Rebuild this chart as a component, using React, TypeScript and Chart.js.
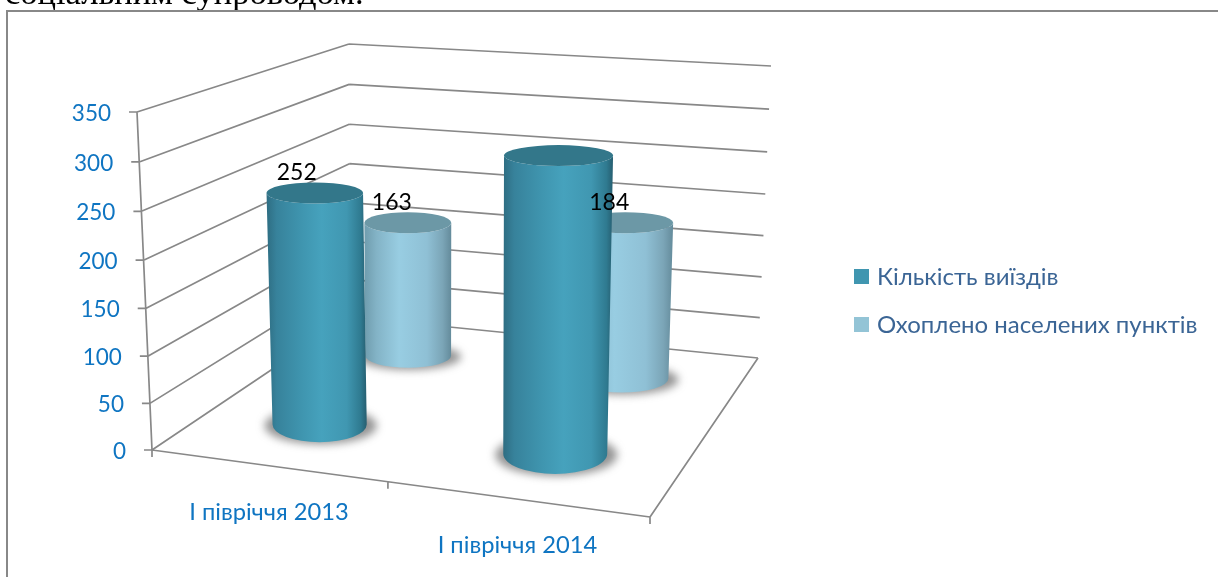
import React, { useEffect, useRef } from "react";
import { Chart, registerables } from "chart.js";

Chart.register(...registerables);

const categories = ["І півріччя 2013", "І півріччя 2014"];
const tripsLabel = "Кількість виїздів";
const settlementsLabel = "Охоплено населених пунктів";
const trips = [252, 310];
const settlements = [163, 184];
const tripsShownLabels = [true, false];
const settlementsShownLabels = [true, true];
const yMin = 0;
const yMax = 350;
const yStep = 50;
const headingText = "соціальним супроводом.";

type P = { x: number; y: number };
const GRAY = "#888888";
const BLUE = "#0f75c2";
const FONT = "Lato, 'Open Sans', sans-serif";

function makeHomography(p0: P, p1: P, p2: P, p3: P) {
  const dx1 = p1.x - p2.x, dx2 = p3.x - p2.x, sx = p0.x - p1.x + p2.x - p3.x;
  const dy1 = p1.y - p2.y, dy2 = p3.y - p2.y, sy = p0.y - p1.y + p2.y - p3.y;
  const den = dx1 * dy2 - dx2 * dy1;
  const g = (sx * dy2 - dx2 * sy) / den;
  const h = (dx1 * sy - sx * dy1) / den;
  const a = p1.x - p0.x + g * p1.x, b = p3.x - p0.x + h * p3.x, c = p0.x;
  const d = p1.y - p0.y + g * p1.y, e = p3.y - p0.y + h * p3.y, f = p0.y;
  return (u: number, v: number): P => {
    const w = g * u + h * v + 1;
    return { x: (a * u + b * v + c) / w, y: (d * u + e * v + f) / w };
  };
}

const floorAt = makeHomography({ x: 152, y: 450 }, { x: 650, y: 517 }, { x: 758, y: 358 }, { x: 350, y: 317 });
const ceilAt = makeHomography({ x: 137, y: 112 }, { x: 660, y: 150 }, { x: 771, y: 66 }, { x: 349, y: 44 });

function project(u: number, v: number, w: number): P {
  const k = w - 0.04 * w * (1 - w);
  const a = floorAt(u, v), b = ceilAt(u, v);
  return { x: a.x + (b.x - a.x) * k, y: a.y + (b.y - a.y) * k };
}

const rowDepth = [0.25, 0.75];
const themes = [
  {
    stops: [[0, "#2e6d82"], [0.1, "#37829b"], [0.35, "#3f95af"], [0.55, "#46a2bd"], [0.8, "#4097b1"], [0.94, "#2f7a90"], [1, "#265e70"]],
    top: "#33778a",
    labelDx: -18,
  },
  {
    stops: [[0, "#6f9cad"], [0.14, "#83b3c6"], [0.4, "#98cde2"], [0.72, "#8fc0d5"], [0.9, "#7ba5b7"], [1, "#648b9b"]],
    top: "#6c98a6",
    labelDx: -16,
  },
];

const scene = {
  id: "scene3d",
  beforeDatasetsDraw(chart: any) {
    const ctx: CanvasRenderingContext2D = chart.ctx;
    const xs = chart.scales.x;
    const ys = chart.scales.y;
    const area = chart.chartArea;
    const uOf = (px: number) => (px - area.left) / (area.right - area.left);
    const wOf = (val: number) => (area.bottom - ys.getPixelForValue(val)) / (area.bottom - area.top);

    ctx.save();
    ctx.fillStyle = "#000";
    ctx.font = "34.5px 'Liberation Serif', serif";
    ctx.textAlign = "left";
    ctx.textBaseline = "alphabetic";
    ctx.fillText(headingText, 5, 4);

    // frame
    ctx.strokeStyle = GRAY;
    ctx.lineWidth = 2;
    ctx.beginPath();
    ctx.moveTo(7, 577);
    ctx.lineTo(7, 11);
    ctx.lineTo(1218, 11);
    ctx.stroke();

    // walls, floor, ticks
    ctx.lineWidth = 1.7;
    ctx.beginPath();
    const line = (a: P, b: P) => { ctx.moveTo(a.x, a.y); ctx.lineTo(b.x, b.y); };
    ys.ticks.forEach((t: any) => {
      const w = wOf(t.value);
      const fl = project(0, 0, w), bl = project(0, 1, w), br = project(1, 1, w);
      line(fl, bl);
      line(bl, br);
      line({ x: fl.x - 8, y: fl.y }, fl);
    });
    line(project(0, 0, 0), project(0, 0, 1));
    line(project(0, 0, 0), project(1, 0, 0));
    line(project(1, 0, 0), project(1, 1, 0));
    [0, 0.5, 1].forEach((u) => {
      const p = project(u, 0, 0);
      line(p, { x: p.x, y: p.y + 7 });
    });
    ctx.stroke();

    // y tick labels
    ctx.fillStyle = BLUE;
    ctx.font = `22.5px ${FONT}`;
    ctx.textAlign = "right";
    ctx.textBaseline = "middle";
    ys.ticks.forEach((t: any) => {
      const p = project(0, 0, wOf(t.value));
      ctx.fillText(String(t.value), p.x - 26, p.y + 1.5);
    });

    // category labels
    ctx.font = `23.7px ${FONT}`;
    ctx.textAlign = "center";
    categories.forEach((_, i) => {
      const p = project(uOf(xs.getPixelForValue(i)), 0, 0);
      ctx.fillText(xs.getLabelForValue(i), p.x + 2, p.y + 46.5);
    });

    // cylinders, back row first
    const pending: { text: string; x: number; y: number }[] = [];
    [1, 0].forEach((ds) => {
      const meta = chart.getDatasetMeta(ds);
      const th = themes[ds];
      const v = rowDepth[ds];
      meta.data.forEach((bar: any, i: number) => {
        const val = chart.data.datasets[ds].data[i];
        const u = uOf(bar.x);
        const r = bar.width / (area.right - area.left) / 2;
        const w = wOf(val);
        const base = project(u, v, 0);
        const top = project(u, v, w);
        const rxB = (project(u + r, v, 0).x - project(u - r, v, 0).x) / 2;
        const rxT = (project(u + r, v, w).x - project(u - r, v, w).x) / 2;
        const ryB = 0.0833 * (base.y - 213);
        const ryT = 10.5;

        ctx.save();
        ctx.filter = "blur(4px)";
        ctx.fillStyle = "rgba(90,90,90,0.65)";
        ctx.beginPath();
        ctx.ellipse(base.x + 1, base.y + 1, rxB + 9, ryB + 1, 0, 0, Math.PI * 2);
        ctx.fill();
        ctx.restore();

        const g = ctx.createLinearGradient(Math.min(base.x - rxB, top.x - rxT), 0, Math.max(base.x + rxB, top.x + rxT), 0);
        th.stops.forEach(([o, c]) => g.addColorStop(o as number, c as string));
        ctx.fillStyle = g;
        ctx.beginPath();
        ctx.moveTo(top.x - rxT, top.y);
        ctx.lineTo(base.x - rxB, base.y);
        ctx.ellipse(base.x, base.y, rxB, ryB, 0, Math.PI, 0, true);
        ctx.lineTo(top.x + rxT, top.y);
        ctx.ellipse(top.x, top.y, rxT, ryT, 0, 0, Math.PI, false);
        ctx.closePath();
        ctx.fill();

        ctx.fillStyle = th.top;
        ctx.beginPath();
        ctx.ellipse(top.x, top.y, rxT, ryT, 0, 0, Math.PI * 2);
        ctx.fill();

        const shown = ds === 0 ? tripsShownLabels[i] : settlementsShownLabels[i];
        if (shown) pending.push({ text: String(val), x: top.x + th.labelDx, y: top.y - 20 });
      });
    });

    // value labels
    ctx.fillStyle = "#000";
    ctx.font = `23px ${FONT}`;
    ctx.textAlign = "center";
    pending.forEach((l) => ctx.fillText(l.text, l.x, l.y));

    // legend
    ctx.textAlign = "left";
    ctx.font = `24px ${FONT}`;
    chart.data.datasets.forEach((d: any, i: number) => {
      const y = 269 + i * 48;
      ctx.fillStyle = d.backgroundColor;
      ctx.fillRect(854, y, 15, 15);
      ctx.fillStyle = "#3b6595";
      ctx.fillText(d.label, 877, y + 8);
    });
    ctx.restore();
    return false;
  },
};

export default function App() {
  const ref = useRef<HTMLCanvasElement>(null);
  useEffect(() => {
    const chart = new Chart(ref.current as HTMLCanvasElement, {
      type: "bar",
      data: {
        labels: categories,
        datasets: [
          { label: tripsLabel, data: trips, backgroundColor: "#4096b0", grouped: false, barPercentage: 0.42, categoryPercentage: 1 },
          { label: settlementsLabel, data: settlements, backgroundColor: "#93c4d6", grouped: false, barPercentage: 0.42, categoryPercentage: 1 },
        ],
      },
      options: {
        responsive: false,
        animation: false,
        layout: { padding: 0 },
        plugins: { legend: { display: false }, tooltip: { enabled: false } },
        scales: {
          x: { display: false },
          y: { display: false, min: yMin, max: yMax, ticks: { stepSize: yStep } },
        },
      },
      plugins: [scene],
    } as any);
    return () => chart.destroy();
  }, []);
  return (
    <div style={{ position: "fixed", left: 0, top: 0 }}>
      <canvas ref={ref} width={1218} height={577} style={{ display: "block" }} />
    </div>
  );
}
